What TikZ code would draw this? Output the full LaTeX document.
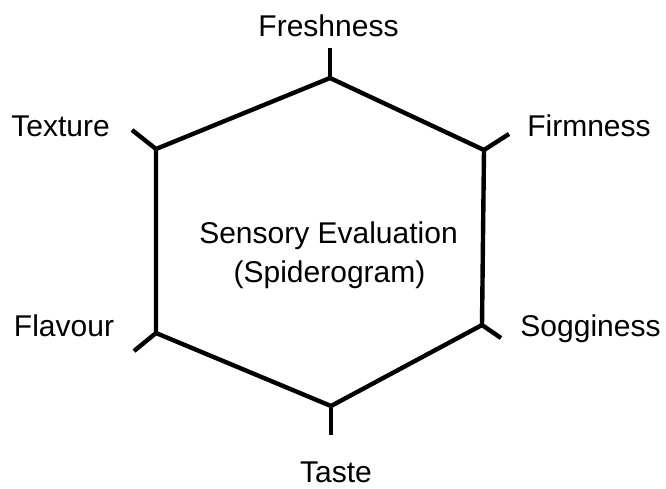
\documentclass[tikz,border=0pt]{standalone}
\usepackage{fontspec}
\setmainfont{Liberation Sans}
\begin{document}
\begin{tikzpicture}[x=1pt,y=-1pt,
  axis/.style={line width=4.4pt,line join=miter,black},
  label/.style={font=\fontsize{30}{36}\selectfont,inner sep=0pt,anchor=base}]
\useasboundingbox (0,0) rectangle (666,488);
% hexagon corners
\coordinate (vT)  at (330,78);
\coordinate (vUR) at (484,150);
\coordinate (vLR) at (482,325);
\coordinate (vB)  at (331,406);
\coordinate (vLL) at (156,333);
\coordinate (vUL) at (156,149);
% outer ends of the axis ticks
\coordinate (tT)  at (330,48);
\coordinate (tUR) at (509,134);
\coordinate (tLR) at (501,338);
\coordinate (tB)  at (331,435);
\coordinate (tLL) at (134,351);
\coordinate (tUL) at (132,130);
\draw[axis] (vT) -- (vUR) -- (vLR) -- (vB) -- (vLL) -- (vUL) -- cycle;
\foreach \v/\t in {vT/tT,vUR/tUR,vLR/tLR,vB/tB,vLL/tLL,vUL/tUL}
  \draw[axis] (\v) -- (\t);
% labels
\node[label] (fresh) at (328.5,36) {Freshness};
\node[label] (firm)  at (589,136) {Firmness};
\node[label] (tex)   at (60.5,136) {Texture};
\node[label] (flav)  at (64,336) {Flavour};
\node[label] (sogg)  at (590.5,336) {Sogginess};
\node[label] (taste) at (336,482) {Taste};
\node[label] (title) at (328.5,243) {Sensory Evaluation};
\node[label] (sub)   at (329.5,282) {(Spiderogram)};
\end{tikzpicture}
\end{document}
